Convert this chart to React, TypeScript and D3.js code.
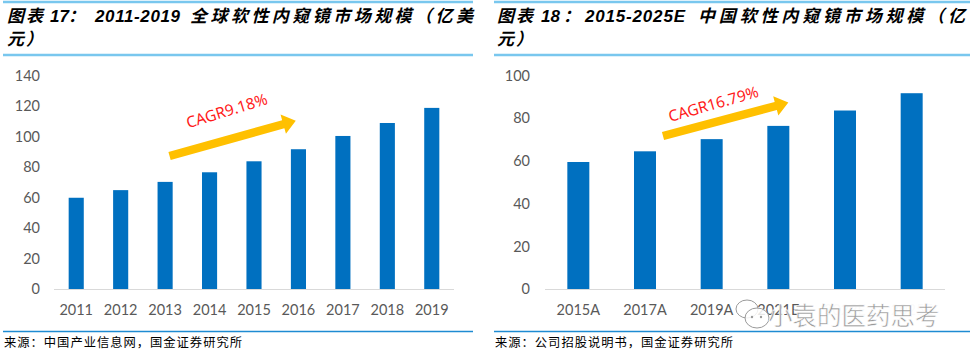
import React from "react";
import * as d3 from "d3";

// ---- data ----
const globalYears = ["2011", "2012", "2013", "2014", "2015", "2016", "2017", "2018", "2019"];
const globalValues = [60, 65, 70.4, 76.7, 83.9, 91.8, 100.5, 109, 118.9];
const globalTicks = [0, 20, 40, 60, 80, 100, 120, 140];

const chinaYears = ["2015A", "2017A", "2019A", "2021E", "2023E", "2025E"];
const chinaValues = [59.6, 64.6, 70.3, 76.5, 83.7, 91.8];
const chinaTicks = [0, 20, 40, 60, 80, 100];

// title pieces: [prefix, number, colon, range, CJK rest]
const titleParts = [
  ["图表", "17", "：", "2011-2019", "全球软性内窥镜市场规模（亿美"],
  ["图表", "18", "：", "2015-2025E", "中国软性内窥镜市场规模（亿"],
];
const titleTails = ["元）", "元）"];
const sources = ["来源：中国产业信息网，国金证券研究所", "来源：公司招股说明书，国金证券研究所"];
const cagrLabels = ["CAGR9.18%", "CAGR16.79%"];
// arrow anchors in data space: [index position, value]
const globalArrow = { from: [2.1, 87.4], to: [4.94, 110.5], text: [2.52, 105.5], angle: -17 };
const chinaArrow = { from: [1.27, 71.8], to: [3.15, 87.4], text: [1.38, 78.3], angle: -16 };
const watermark = "小袁的医药思考";

const BAR = "#0070C0";
const GRAY = "#595959";
const TITLE_FONT = "'Liberation Sans', 'Noto Sans CJK SC', sans-serif";

type PanelProps = {
  title: string[];
  titleX: number[];
  titleW: (number | null)[];
  titleTail: string;
  cats: string[];
  vals: number[];
  ticks: number[];
  yMax: number;
  plotX0: number;
  plotX1: number;
  labelRight: number;
  padInner: number;
  arrow: { from: number[]; to: number[]; text: number[]; angle: number };
  cagr: string;
  source: string;
  lineX0: number;
  lineX1: number;
};

function Panel(p: PanelProps) {
  const y = d3.scaleLinear().domain([0, p.yMax]).range([289.3, 75.7]);
  const x = d3
    .scaleBand<string>()
    .domain(p.cats)
    .range([p.plotX0, p.plotX1])
    .paddingInner(p.padInner)
    .paddingOuter(p.padInner / 2);
  const xi = d3.scaleLinear().domain([-0.5, p.cats.length - 0.5]).range([p.plotX0, p.plotX1]);

  const ax0 = xi(p.arrow.from[0]);
  const ay0 = y(p.arrow.from[1]);
  const ax1 = xi(p.arrow.to[0]);
  const ay1 = y(p.arrow.to[1]);
  const dx = ax1 - ax0;
  const dy = ay1 - ay0;
  const len = Math.sqrt(dx * dx + dy * dy);
  const ux = dx / len;
  const uy = dy / len;
  const nx = -uy;
  const ny = ux;
  const sw = 4.2;
  const hw = 10;
  const hl = 13;
  const bx = ax1 - ux * hl;
  const by = ay1 - uy * hl;
  const pts = [
    [ax0 + nx * sw, ay0 + ny * sw],
    [bx + nx * sw, by + ny * sw],
    [bx + nx * hw, by + ny * hw],
    [ax1, ay1],
    [bx - nx * hw, by - ny * hw],
    [bx - nx * sw, by - ny * sw],
    [ax0 - nx * sw, ay0 - ny * sw],
  ];
  const tx = xi(p.arrow.text[0]);
  const ty = y(p.arrow.text[1]);

  return (
    <g>
      <line x1={p.lineX0} x2={p.lineX1} y1={2} y2={2} stroke="#79C7EE" strokeWidth={2.5} />
      {p.title.map((s, i) => {
        const w = p.titleW[i];
        return (
          <text
            key={i}
            x={p.titleX[i]}
            y={21.5}
            fontFamily={TITLE_FONT}
            fontWeight={700}
            fontStyle="italic"
            fontSize={17}
            fill="#000"
            {...(w ? { textLength: w, lengthAdjust: "spacing" } : {})}
          >
            {s}
          </text>
        );
      })}
      <text
        x={p.titleX[0]}
        y={44.5}
        fontFamily={TITLE_FONT}
        fontWeight={700}
        fontStyle="italic"
        fontSize={17}
        textLength={36}
        lengthAdjust="spacing"
        fill="#000"
      >
        {p.titleTail}
      </text>
      <line x1={p.lineX0} x2={p.lineX1} y1={55} y2={55} stroke="#79C7EE" strokeWidth={2.5} />

      {p.ticks.map((t) => (
        <text
          key={t}
          x={p.labelRight}
          y={y(t)}
          dy="0.35em"
          textAnchor="end"
          fontFamily="Lato, 'Liberation Sans', sans-serif"
          fontSize={14.5}
          fill={GRAY}
        >
          {t}
        </text>
      ))}

      {p.cats.map((c, i) => (
        <rect
          key={c}
          x={x(c)}
          y={y(p.vals[i])}
          width={x.bandwidth()}
          height={y(0) - y(p.vals[i])}
          fill={BAR}
        />
      ))}
      <line x1={p.plotX0} x2={p.plotX1} y1={289.5} y2={289.5} stroke="#D9D9D9" strokeWidth={1} />

      {p.cats.map((c) => (
        <text
          key={c}
          x={(x(c) as number) + x.bandwidth() / 2}
          y={315}
          textAnchor="middle"
          fontFamily="Lato, 'Liberation Sans', sans-serif"
          fontSize={14.5}
          fill={GRAY}
        >
          {c}
        </text>
      ))}

      <polygon points={pts.map((q) => q.join(",")).join(" ")} fill="#FFC000" />
      <text
        x={tx}
        y={ty}
        transform={`rotate(${p.arrow.angle},${tx},${ty})`}
        fontFamily="'Noto Sans', 'Liberation Sans', sans-serif"
        fontSize={15.5}
        fill="#FF1A1A"
      >
        {p.cagr}
      </text>

      <line x1={p.lineX0} x2={p.lineX1} y1={331.5} y2={331.5} stroke="#1E8BD2" strokeWidth={1.3} />
      <text
        x={p.lineX0 + 1}
        y={347}
        fontFamily="'Noto Sans CJK SC', sans-serif"
        fontSize={12.3}
        textLength={238}
        lengthAdjust="spacing"
        fill="#000"
      >
        {p.source}
      </text>
    </g>
  );
}

export default function App() {
  return (
    <svg
      width={970}
      height={358}
      style={{ position: "absolute", left: 0, top: 0, background: "#fff" }}
    >
      <rect width={970} height={358} fill="#fff" />
      <Panel
        title={titleParts[0]}
        titleX={[7, 50, 68, 95, 190]}
        titleW={[36, null, null, 85, 283]}
        titleTail={titleTails[0]}
        cats={globalYears}
        vals={globalValues}
        ticks={globalTicks}
        yMax={140}
        plotX0={54}
        plotX1={454}
        labelRight={40}
        padInner={0.66}
        arrow={globalArrow}
        cagr={cagrLabels[0]}
        source={sources[0]}
        lineX0={3}
        lineX1={473}
      />
      <Panel
        title={titleParts[1]}
        titleX={[497, 541, 563, 585, 698]}
        titleW={[36, null, null, 100, 267]}
        titleTail={titleTails[1]}
        cats={chinaYears}
        vals={chinaValues}
        ticks={chinaTicks}
        yMax={100}
        plotX0={545}
        plotX1={945}
        labelRight={530}
        padInner={0.67}
        arrow={chinaArrow}
        cagr={cagrLabels[1]}
        source={sources[1]}
        lineX0={494}
        lineX1={970}
      />
      {/* watermark overlay (hides the last two category labels, as in the reference) */}
      <rect x={800} y={298} width={148} height={30} fill="#fff" opacity={0.97} />
      <g stroke="#9a9a9a" strokeWidth={1} fill="#fff" fillOpacity={0.85}>
        <ellipse cx={747} cy={309} rx={11} ry={9} />
        <ellipse cx={757} cy={318} rx={12} ry={10} />
      </g>
      <g fill="#9a9a9a">
        <circle cx={752} cy={317} r={1.2} />
        <circle cx={761} cy={317} r={1.2} />
      </g>
      <text
        x={768}
        y={325}
        fontFamily="'Noto Sans CJK SC', sans-serif"
        fontSize={24.5}
        fill="#999"
        stroke="#fff"
        strokeWidth={0.6}
      >
        {watermark}
      </text>
    </svg>
  );
}
